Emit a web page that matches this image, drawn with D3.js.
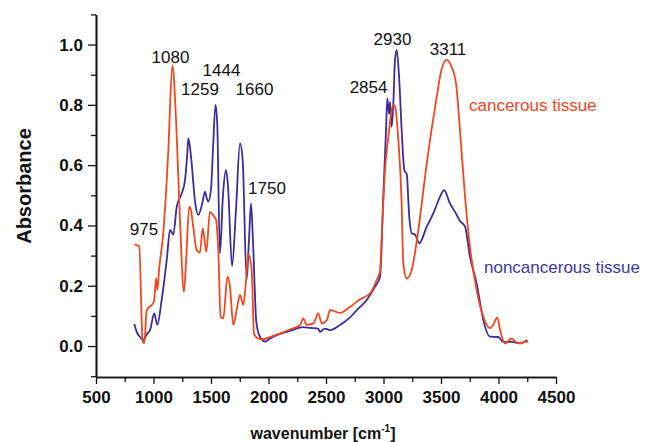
<!DOCTYPE html>
<html>
<head>
<meta charset="utf-8">
<script src="https://cdn.jsdelivr.net/npm/d3@7"></script>
<style>
  html, body { margin: 0; padding: 0; background: #fff; }
  svg { display: block; font-family: Arial, "Liberation Sans", sans-serif; }
</style>
</head>
<body>
<svg id="chart" width="651" height="442"></svg>
<script>
// ---- data ----
const cancerWave = [833, 876, 906, 920, 941, 984, 1004, 1022, 1033, 1050, 1085, 1115, 1129, 1164, 1196, 1230, 1265, 1283, 1311, 1326, 1344, 1376, 1404, 1428, 1448, 1459, 1491, 1526, 1543, 1563, 1584, 1607, 1643, 1665, 1694, 1723, 1752, 1781, 1805, 1824, 1854, 1874, 1909, 1944, 2013, 2100, 2187, 2274, 2303, 2332, 2390, 2433, 2463, 2506, 2535, 2622, 2709, 2796, 2883, 2941, 2970, 2987, 3013, 3042, 3066, 3085, 3100, 3129, 3158, 3172, 3202, 3245, 3303, 3376, 3463, 3500, 3550, 3587, 3631, 3665, 3709, 3752, 3810, 3868, 3926, 3954, 3989, 4013, 4057, 4115, 4143, 4187, 4230, 4259];
const cancerAbs  = [0.337, 0.33, 0.014, 0.01, 0.12, 0.136, 0.147, 0.225, 0.186, 0.26, 0.375, 0.55, 0.65, 0.932, 0.75, 0.42, 0.18, 0.28, 0.462, 0.45, 0.40, 0.318, 0.31, 0.39, 0.34, 0.313, 0.445, 0.43, 0.42, 0.32, 0.097, 0.092, 0.23, 0.197, 0.07, 0.12, 0.17, 0.136, 0.22, 0.305, 0.252, 0.04, 0.025, 0.022, 0.03, 0.042, 0.055, 0.07, 0.092, 0.07, 0.075, 0.108, 0.075, 0.085, 0.119, 0.11, 0.13, 0.155, 0.175, 0.219, 0.25, 0.385, 0.584, 0.694, 0.77, 0.8, 0.795, 0.683, 0.473, 0.274, 0.224, 0.252, 0.385, 0.606, 0.827, 0.91, 0.949, 0.93, 0.87, 0.716, 0.495, 0.329, 0.186, 0.097, 0.059, 0.07, 0.095, 0.055, 0.009, 0.025, 0.015, 0.009, 0.014, 0.015];

const normalWave = [833, 854, 883, 911, 943, 970, 1007, 1033, 1071, 1115, 1144, 1172, 1202, 1245, 1274, 1294, 1303, 1317, 1332, 1361, 1390, 1422, 1448, 1463, 1476, 1500, 1517, 1539, 1554, 1578, 1604, 1630, 1648, 1683, 1717, 1752, 1775, 1810, 1830, 1848, 1865, 1894, 1926, 1970, 2013, 2100, 2187, 2300, 2361, 2430, 2448, 2491, 2535, 2622, 2709, 2767, 2854, 2926, 2970, 2998, 3022, 3033, 3048, 3057, 3071, 3085, 3100, 3115, 3137, 3158, 3181, 3202, 3224, 3245, 3274, 3311, 3376, 3433, 3491, 3526, 3578, 3622, 3665, 3709, 3752, 3810, 3868, 3926, 3998, 4042, 4115, 4187, 4250];
const normalAbs  = [0.073, 0.047, 0.03, 0.02, 0.04, 0.053, 0.108, 0.07, 0.153, 0.285, 0.385, 0.37, 0.462, 0.506, 0.55, 0.64, 0.689, 0.66, 0.606, 0.48, 0.435, 0.47, 0.512, 0.49, 0.479, 0.52, 0.65, 0.8, 0.74, 0.307, 0.5, 0.584, 0.53, 0.265, 0.45, 0.672, 0.62, 0.22, 0.35, 0.473, 0.35, 0.08, 0.03, 0.015, 0.025, 0.04, 0.05, 0.063, 0.06, 0.058, 0.047, 0.058, 0.053, 0.07, 0.095, 0.119, 0.153, 0.197, 0.23, 0.495, 0.716, 0.821, 0.77, 0.81, 0.727, 0.8, 0.949, 0.982, 0.882, 0.716, 0.584, 0.57, 0.429, 0.374, 0.37, 0.341, 0.396, 0.44, 0.495, 0.517, 0.473, 0.445, 0.415, 0.396, 0.296, 0.208, 0.086, 0.031, 0.03, 0.014, 0.014, 0.009, 0.02];

const xTicks = [500, 1000, 1500, 2000, 2500, 3000, 3500, 4000, 4500];
const yTicks = [0.0, 0.2, 0.4, 0.6, 0.8, 1.0];

const peakLabels = ["975", "1080", "1259", "1444", "1660", "1750", "2854", "2930", "3311"];
const peakLabelX = [917, 1148, 1404, 1591, 1878, 1987, 2870, 3078, 3561];
const peakLabelY = [0.388, 0.958, 0.852, 0.915, 0.852, 0.521, 0.859, 1.017, 0.985];

const seriesNames = ["cancerous tissue", "noncancerous tissue"];

// ---- drawing ----
const svg = d3.select("#chart");
const x = d3.scaleLinear().domain([500, 4500]).range([96, 556]);
const y = d3.scaleLinear().domain([-0.1, 1.1]).range([376.2, 14.4]);

const RED = "#f2461c", BLUE = "#3b2c9c";
const FONT = "Arial, 'Liberation Sans', sans-serif";

// axes
const xAxis = d3.axisBottom(x).tickValues(xTicks).tickFormat(d3.format("d")).tickSize(7).tickSizeOuter(0);
const xMinor = d3.axisBottom(x).tickValues(d3.range(750, 4500, 500)).tickFormat("").tickSize(5).tickSizeOuter(0);
const yAxis = d3.axisLeft(y).tickValues(yTicks).tickFormat(d3.format(".1f")).tickSize(8).tickSizeOuter(0);
const yMinor = d3.axisLeft(y).tickValues([-0.1, 0.1, 0.3, 0.5, 0.7, 0.9, 1.1]).tickFormat("").tickSize(5).tickSizeOuter(0);

function styleAxis(g) {
  g.select(".domain").attr("stroke", "#111").attr("stroke-width", 1.6);
  g.selectAll(".tick line").attr("stroke", "#111").attr("stroke-width", 1.3);
  g.selectAll(".tick text").attr("fill", "#111").style("font-family", FONT)
    .style("font-size", "17px").style("font-weight", "bold");
}

svg.append("g").attr("transform", "translate(0,377)").call(xMinor).call(styleAxis);
svg.append("g").attr("transform", "translate(0,377)").call(xAxis).call(styleAxis)
  .selectAll(".tick text").attr("dy", "0.71em").attr("y", 14);
svg.append("g").attr("transform", "translate(96,0)").call(yMinor).call(styleAxis);
svg.append("g").attr("transform", "translate(96,0)").call(yAxis).call(styleAxis)
  .selectAll(".tick text").attr("x", -13);

// axis titles
const xt = svg.append("text").attr("x", 323).attr("y", 439).attr("text-anchor", "middle")
  .style("font-family", FONT).style("font-size", "16px").style("font-weight", "bold").attr("fill", "#111");
xt.append("tspan").text("wavenumber [cm");
xt.append("tspan").text("-1").attr("dy", -7).style("font-size", "10px");
xt.append("tspan").text("]").attr("dy", 7);

svg.append("text").attr("transform", "translate(31,186) rotate(-90)").attr("text-anchor", "middle")
  .style("font-family", FONT).style("font-size", "20px").style("font-weight", "bold").attr("fill", "#111")
  .text("Absorbance");

// lines
const line = d3.line().x(d => x(d[0])).y(d => y(d[1])).curve(d3.curveMonotoneX);
const normalData = normalWave.map((w, i) => [w, normalAbs[i]]);
const cancerData = cancerWave.map((w, i) => [w, cancerAbs[i]]);

svg.append("path").datum(normalData).attr("d", line).attr("fill", "none")
  .attr("stroke", BLUE).attr("stroke-width", 1.8).attr("stroke-linejoin", "round");
svg.append("path").datum(cancerData).attr("d", line).attr("fill", "none")
  .attr("stroke", RED).attr("stroke-width", 1.8).attr("stroke-linejoin", "round");

// peak labels
svg.selectAll("text.peak").data(peakLabels).join("text").attr("class", "peak")
  .attr("x", (d, i) => x(peakLabelX[i])).attr("y", (d, i) => y(peakLabelY[i]))
  .attr("text-anchor", "middle").attr("dominant-baseline", "central")
  .style("font-family", FONT).style("font-size", "17px").attr("fill", "#111").text(d => d);

// series labels
svg.append("text").attr("x", 469).attr("y", 105).attr("dominant-baseline", "central")
  .style("font-family", FONT).style("font-size", "17px").attr("fill", RED).text(seriesNames[0]);
svg.append("text").attr("x", 484).attr("y", 267).attr("dominant-baseline", "central")
  .style("font-family", FONT).style("font-size", "17px").attr("fill", "#4037a0").text(seriesNames[1]);
</script>
</body>
</html>
